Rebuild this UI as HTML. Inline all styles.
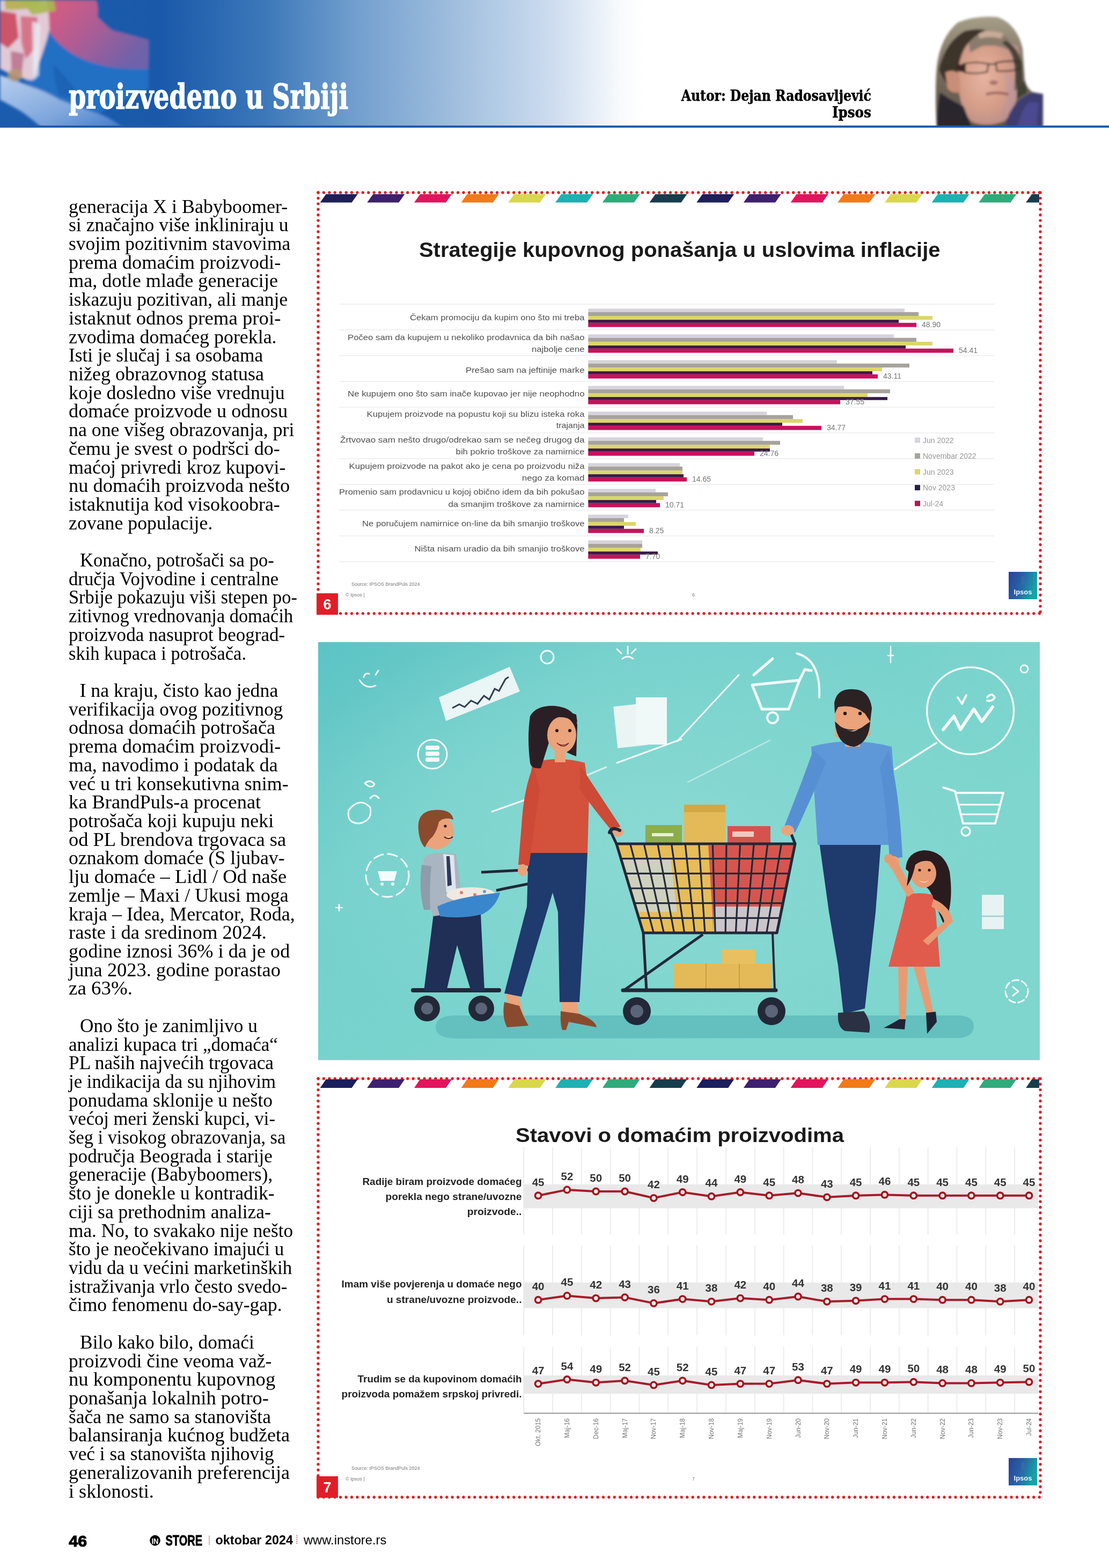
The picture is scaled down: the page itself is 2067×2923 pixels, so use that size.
<!DOCTYPE html>
<html lang="sr">
<head>
<meta charset="utf-8">
<title>proizvedeno u Srbiji – InStore oktobar 2024</title>
<style>
html,body{margin:0;padding:0;background:#fff;}
body{width:2067px;height:2923px;position:relative;overflow:hidden;}
.abs{position:absolute;}
#hdr{left:0;top:0;width:2067px;height:234px;background:linear-gradient(to right,#1b5cae 0px,#1a59aa 300px,#3a76b8 485px,#74a0cf 670px,#a2bfdf 854px,#cfdef0 1039px,#f8fafd 1156px,#fff 1200px);}
#hline{left:0;top:234px;width:2067px;height:4px;background:#1f5ca9;}
#body{left:128px;top:0;font-family:"Liberation Serif",serif;font-size:35.8px;color:#000;}
#body div{position:absolute;left:0;white-space:pre;line-height:1;transform-origin:0 0;}
svg{position:absolute;left:0;top:0;}
</style>
</head>
<body>
<div id="hdr" class="abs"></div>
<svg width="2067" height="240" viewBox="0 0 2067 240">
<defs><clipPath id="hclip"><rect x="0" y="0" width="2067" height="235"/></clipPath></defs><g clip-path="url(#hclip)"><defs>
<linearGradient id="flr" x1="0" y1="0" x2="1" y2="0.6"><stop offset="0" stop-color="#dc5c7c"/><stop offset="0.45" stop-color="#b45c92"/><stop offset="1" stop-color="#6f62aa"/></linearGradient>
<linearGradient id="flw" x1="0" y1="0" x2="1" y2="1"><stop offset="0" stop-color="#b8cfee"/><stop offset="0.6" stop-color="#7ea6dc"/><stop offset="1" stop-color="#3f78c8"/></linearGradient>
<filter id="fbl" x="-10%" y="-10%" width="120%" height="120%"><feGaussianBlur stdDeviation="2.5"/></filter>
</defs>
<g filter="url(#fbl)">
<path d="M0 140 Q30 150 55 160 Q85 170 111 185 Q150 200 185 212 Q210 222 232 240 L80 240 Q60 222 40 208 Q18 195 0 186 Z" fill="url(#flw)"/>
<path d="M95 58 Q120 90 150 105 Q200 120 277 128 L277 165 Q240 185 185 210 Q150 198 111 183 Q80 168 55 158 Q40 150 48 140 Q70 100 95 58 Z" fill="#2470c4"/>
<path d="M100 120 Q130 150 150 180 Q130 185 110 178 Q100 150 100 120 Z" fill="#1b5cae" opacity="0.6"/>
<path d="M85 0 L180 0 Q186 18 182 30 Q195 45 210 56 Q250 66 278 74 L277 128 Q240 130 200 124 Q160 115 135 100 Q105 80 92 58 Q86 30 85 0 Z" fill="url(#flr)"/>
<path d="M0 0 L88 0 Q92 30 92 58 Q80 100 60 150 Q30 145 0 128 Z" fill="#e2c9d6"/>
<path d="M8 0 L75 0 L72 12 Q40 20 10 18 Z" fill="#b9b25a"/>
<path d="M40 2 L100 0 L104 20 L60 28 Z" fill="#a9b84e" opacity="0.9"/>
<path d="M0 20 L30 25 L35 70 L15 90 L0 80 Z" fill="#c84058" opacity="0.85"/>
<path d="M38 30 L70 32 L66 90 L48 110 L40 80 Z" fill="#d0506a" opacity="0.7"/>
<path d="M20 95 L45 100 L40 140 L22 150 Z" fill="#b86a88" opacity="0.8"/>
<ellipse cx="28" cy="140" rx="14" ry="12" fill="#b89a70" opacity="0.8"/>
<path d="M60 40 L75 45 L72 140 L62 150 Z" fill="#e8eef4" opacity="0.8"/>
</g>
<defs>
<radialGradient id="phf" cx="0.42" cy="0.45" r="0.65"><stop offset="0" stop-color="#e6b4a2"/><stop offset="0.55" stop-color="#d69e88"/><stop offset="1" stop-color="#b48c8c"/></radialGradient>
<linearGradient id="phh" x1="0" y1="0" x2="0" y2="1"><stop offset="0" stop-color="#a69e88"/><stop offset="0.5" stop-color="#776c5c"/><stop offset="1" stop-color="#5a5046"/></linearGradient>
<filter id="pbl" x="-10%" y="-10%" width="120%" height="120%"><feGaussianBlur stdDeviation="2"/></filter>
</defs>
<g filter="url(#pbl)">
<path d="M1746 240 Q1742 170 1746 125 Q1752 70 1785 42 Q1820 28 1860 32 Q1895 45 1906 90 L1910 150 Q1914 165 1925 172 L1944 175 L1944 240 Z" fill="url(#phh)"/>
<path d="M1786 82 Q1840 60 1898 86 Q1904 120 1900 160 Q1894 205 1872 226 Q1842 238 1812 228 Q1790 205 1786 160 Q1782 110 1786 82 Z" fill="url(#phf)"/>
<path d="M1805 70 Q1845 56 1880 70 L1885 95 Q1860 82 1830 86 L1808 98 Z" fill="#8a7c6c"/>
<path d="M1822 60 Q1845 55 1870 62 L1866 72 Q1845 66 1826 72 Z" fill="#c8aa98"/>
<path d="M1750 130 Q1762 78 1798 58 Q1820 52 1838 56 Q1815 66 1802 84 Q1790 100 1786 130 Q1782 150 1784 175 Q1762 160 1750 130 Z" fill="#3e342c"/>
<path d="M1762 135 Q1776 128 1788 138 L1790 172 Q1776 176 1766 165 Z" fill="#c88e78"/>
<path d="M1752 172 Q1770 186 1796 198 L1812 240 L1746 240 Q1746 200 1752 172 Z" fill="#2a282e"/>
<path d="M1874 75 Q1898 88 1905 120 L1907 162 Q1898 170 1890 168 Q1895 135 1888 108 Q1882 90 1868 80 Z" fill="#4a4238"/>
<path d="M1872 135 Q1894 145 1896 172 Q1888 198 1874 214 Q1880 180 1872 135 Z" fill="#b89aa8" opacity="0.45"/>
<g fill="none" stroke="#3a2a26" stroke-width="2.6">
<path d="M1782 124 L1796 121"/>
<path d="M1796 119 Q1818 114 1842 119 L1840 134 Q1818 139 1798 135 Z"/>
<path d="M1842 120 L1856 119"/>
<path d="M1856 117 Q1880 112 1902 115 L1900 129 Q1878 134 1858 132 Z"/>
</g>
<path d="M1782 121 L1800 119 L1800 135 L1786 133 Z" fill="#3a2622"/>
<ellipse cx="1852" cy="154" rx="8" ry="4" fill="#a8706a"/>
<path d="M1838 176 Q1856 170 1880 176" stroke="#9a5a5a" stroke-width="4" fill="none"/>
<path d="M1872 240 Q1880 205 1898 188 Q1912 176 1926 172 L1944 176 L1944 240 Z" fill="#3e3c72"/>
<path d="M1896 240 Q1902 206 1918 190 L1936 192 L1932 240 Z" fill="#4d4c94" opacity="0.85"/>
<path d="M1895 170 Q1905 160 1910 150 L1915 172 Q1905 178 1895 185 Z" fill="#3c4232"/>
</g>
</g><text x="128" y="201.5" font-family="DejaVu Serif Condensed,DejaVu Serif,serif" font-weight="bold" font-size="63" fill="#fff" stroke="#fff" stroke-width="1.4" textLength="521" lengthAdjust="spacingAndGlyphs">proizvedeno u Srbiji</text>
<text x="1623.8" y="187.8" font-family="DejaVu Serif Condensed,DejaVu Serif,serif" font-weight="bold" font-size="27.3" fill="#000" stroke="#000" stroke-width="0.5" text-anchor="end" textLength="354" lengthAdjust="spacingAndGlyphs">Autor: Dejan Radosavljević</text>
<text x="1623.8" y="218.6" font-family="DejaVu Serif Condensed,DejaVu Serif,serif" font-weight="bold" font-size="27.3" fill="#000" stroke="#000" stroke-width="0.5" text-anchor="end">Ipsos</text>
</svg>
<div id="hline" class="abs"></div>
<div id="body" class="abs"><div style="top:367.5px;left:0px;transform:scaleX(1.006)">generacija X i Babyboomer-</div>
<div style="top:402.2px;left:0px;transform:scaleX(0.9953)">si značajno više inkliniraju u</div>
<div style="top:436.9px;left:0px;transform:scaleX(0.9894)">svojim pozitivnim stavovima</div>
<div style="top:471.6px;left:0px;transform:scaleX(1.0145)">prema domaćim proizvodi-</div>
<div style="top:506.4px;left:0px;transform:scaleX(1.0115)">ma, dotle mlađe generacije</div>
<div style="top:541.1px;left:0px;transform:scaleX(0.9919)">iskazuju pozitivan, ali manje</div>
<div style="top:575.8px;left:0px;transform:scaleX(1.0278)">istaknut odnos prema proi-</div>
<div style="top:610.5px;left:0px;transform:scaleX(1.0024)">zvodima domaćeg porekla.</div>
<div style="top:645.2px;left:0px;transform:scaleX(0.9874)">Isti je slučaj i sa osobama</div>
<div style="top:679.9px;left:0px;transform:scaleX(1.0061)">nižeg obrazovnog statusa</div>
<div style="top:714.6px;left:0px">koje dosledno više vrednuju</div>
<div style="top:749.3px;left:0px;transform:scaleX(1.0135)">domaće proizvode u odnosu</div>
<div style="top:784.0px;left:0px">na one višeg obrazovanja, pri</div>
<div style="top:818.7px;left:0px;transform:scaleX(1.008)">čemu je svest o podršci do-</div>
<div style="top:853.5px;left:0px;transform:scaleX(1.0048)">maćoj privredi kroz kupovi-</div>
<div style="top:888.2px;left:0px;transform:scaleX(1.019)">nu domaćih proizvoda nešto</div>
<div style="top:922.9px;left:0px;transform:scaleX(1.0054)">istaknutija kod visokoobra-</div>
<div style="top:957.6px;left:0px">zovane populacije.</div>
<div style="top:1027.0px;left:20.5px;transform:scaleX(0.9681)">Konačno, potrošači sa po-</div>
<div style="top:1061.7px;left:0px;transform:scaleX(0.9703)">dručja Vojvodine i centralne</div>
<div style="top:1096.4px;left:0px;transform:scaleX(0.9605)">Srbije pokazuju viši stepen po-</div>
<div style="top:1131.1px;left:0px;transform:scaleX(0.9603)">zitivnog vrednovanja domaćih</div>
<div style="top:1165.8px;left:0px;transform:scaleX(0.9799)">proizvoda nasuprot beograd-</div>
<div style="top:1200.6px;left:0px;transform:scaleX(0.9624)">skih kupaca i potrošača.</div>
<div style="top:1270.0px;left:20.5px">I na kraju, čisto kao jedna</div>
<div style="top:1304.7px;left:0px;transform:scaleX(0.9847)">verifikacija ovog pozitivnog</div>
<div style="top:1339.4px;left:0px;transform:scaleX(1.0143)">odnosa domaćih potrošača</div>
<div style="top:1374.1px;left:0px;transform:scaleX(1.0148)">prema domaćim proizvodi-</div>
<div style="top:1408.8px;left:0px;transform:scaleX(1.0026)">ma, navodimo i podatak da</div>
<div style="top:1443.5px;left:0px;transform:scaleX(1.0052)">već u tri konsekutivna snim-</div>
<div style="top:1478.2px;left:0px;transform:scaleX(1.018)">ka BrandPuls-a procenat</div>
<div style="top:1512.9px;left:0px;transform:scaleX(1.0037)">potrošača koji kupuju neki</div>
<div style="top:1547.7px;left:0px;transform:scaleX(1.0187)">od PL brendova trgovaca sa</div>
<div style="top:1582.4px;left:0px">oznakom domaće (S ljubav-</div>
<div style="top:1617.1px;left:0px;transform:scaleX(1.0213)">lju domaće – Lidl / Od naše</div>
<div style="top:1651.8px;left:0px;transform:scaleX(1.0027)">zemlje – Maxi / Ukusi moga</div>
<div style="top:1686.5px;left:0px;transform:scaleX(1.0067)">kraja – Idea, Mercator, Roda,</div>
<div style="top:1721.2px;left:0px;transform:scaleX(1.0222)">raste i da sredinom 2024.</div>
<div style="top:1755.9px;left:0px;transform:scaleX(1.0114)">godine iznosi 36% i da je od</div>
<div style="top:1790.6px;left:0px;transform:scaleX(1.0185)">juna 2023. godine porastao</div>
<div style="top:1825.3px;left:0px;transform:scaleX(1.0324)">za 63%.</div>
<div style="top:1894.8px;left:20.5px;transform:scaleX(0.9847)">Ono što je zanimljivo u</div>
<div style="top:1929.5px;left:0px;transform:scaleX(0.9784)">analizi kupaca tri „domaća“</div>
<div style="top:1964.2px;left:0px;transform:scaleX(0.988)">PL naših najvećih trgovaca</div>
<div style="top:1998.9px;left:0px;transform:scaleX(0.9706)">je indikacija da su njihovim</div>
<div style="top:2033.6px;left:0px;transform:scaleX(0.9929)">ponudama sklonije u nešto</div>
<div style="top:2068.3px;left:0px;transform:scaleX(0.9657)">većoj meri ženski kupci, vi-</div>
<div style="top:2103.0px;left:0px;transform:scaleX(0.9614)">šeg i visokog obrazovanja, sa</div>
<div style="top:2137.7px;left:0px;transform:scaleX(0.9825)">područja Beograda i starije</div>
<div style="top:2172.4px;left:0px;transform:scaleX(0.9809)">generacije (Babyboomers),</div>
<div style="top:2207.1px;left:0px">što je donekle u kontradik-</div>
<div style="top:2241.9px;left:0px;transform:scaleX(0.9899)">ciji sa prethodnim analiza-</div>
<div style="top:2276.6px;left:0px;transform:scaleX(0.985)">ma. No, to svakako nije nešto</div>
<div style="top:2311.3px;left:0px;transform:scaleX(0.9798)">što je neočekivano imajući u</div>
<div style="top:2346.0px;left:0px;transform:scaleX(0.9781)">vidu da u većini marketinških</div>
<div style="top:2380.7px;left:0px;transform:scaleX(0.9735)">istraživanja vrlo često svedo-</div>
<div style="top:2415.4px;left:0px;transform:scaleX(0.9929)">čimo fenomenu do-say-gap.</div>
<div style="top:2484.8px;left:20.5px;transform:scaleX(0.9898)">Bilo kako bilo, domaći</div>
<div style="top:2519.5px;left:0px;transform:scaleX(0.9939)">proizvodi čine veoma važ-</div>
<div style="top:2554.2px;left:0px;transform:scaleX(1.0252)">nu komponentu kupovnog</div>
<div style="top:2589.0px;left:0px;transform:scaleX(1.0196)">ponašanja lokalnih potro-</div>
<div style="top:2623.7px;left:0px;transform:scaleX(0.9926)">šača ne samo sa stanovišta</div>
<div style="top:2658.4px;left:0px;transform:scaleX(1.0114)">balansiranja kućnog budžeta</div>
<div style="top:2693.1px;left:0px;transform:scaleX(0.9868)">već i sa stanovišta njihovig</div>
<div style="top:2727.8px;left:0px;transform:scaleX(1.0089)">generalizovanih preferencija</div>
<div style="top:2762.5px;left:0px;transform:scaleX(1.0105)">i sklonosti.</div></div>
<svg width="2067" height="1160" viewBox="0 0 2067 1160">
<line x1="593" y1="359" x2="1939" y2="359" stroke="#e31d27" stroke-width="5.4" stroke-linecap="round" stroke-dasharray="0 10.42" fill="none"/>
<line x1="593" y1="1143.6" x2="1939" y2="1143.6" stroke="#e31d27" stroke-width="5.4" stroke-linecap="round" stroke-dasharray="0 10.42" fill="none"/>
<line x1="593" y1="359" x2="593" y2="1143.6" stroke="#e31d27" stroke-width="5.4" stroke-linecap="round" stroke-dasharray="0 10.42" fill="none"/>
<line x1="1939" y1="359" x2="1939" y2="1143.6" stroke="#e31d27" stroke-width="5.4" stroke-linecap="round" stroke-dasharray="0 10.42" fill="none"/>
<polygon points="607.6,362 666.6,362 655.6,377.5 596.6,377.5" fill="#1b1f5e"/>
<polygon points="695.3,362 754.3,362 743.3,377.5 684.3,377.5" fill="#3d2070"/>
<polygon points="783.0,362 842.0,362 831.0,377.5 772.0,377.5" fill="#e3135e"/>
<polygon points="870.7,362 929.7,362 918.7,377.5 859.7,377.5" fill="#f27a17"/>
<polygon points="958.4,362 1017.4,362 1006.4,377.5 947.4,377.5" fill="#d9d84a"/>
<polygon points="1046.1,362 1105.1,362 1094.1,377.5 1035.1,377.5" fill="#1cb1b4"/>
<polygon points="1133.8,362 1192.8,362 1181.8,377.5 1122.8,377.5" fill="#2fab7b"/>
<polygon points="1221.5,362 1280.5,362 1269.5,377.5 1210.5,377.5" fill="#173d4c"/>
<polygon points="1309.2,362 1368.2,362 1357.2,377.5 1298.2,377.5" fill="#1b1f5e"/>
<polygon points="1396.9,362 1455.9,362 1444.9,377.5 1385.9,377.5" fill="#3d2070"/>
<polygon points="1484.6,362 1543.6,362 1532.6,377.5 1473.6,377.5" fill="#e3135e"/>
<polygon points="1572.3,362 1631.3,362 1620.3,377.5 1561.3,377.5" fill="#f27a17"/>
<polygon points="1660.0,362 1719.0,362 1708.0,377.5 1649.0,377.5" fill="#d9d84a"/>
<polygon points="1747.7,362 1806.7,362 1795.7,377.5 1736.7,377.5" fill="#1cb1b4"/>
<polygon points="1835.4,362 1894.4,362 1883.4,377.5 1824.4,377.5" fill="#2fab7b"/>
<polygon points="1923.1,362 1937.0,362 1937.0,377.5 1912.1,377.5" fill="#173d4c"/>
<text x="781" y="479.3" font-family="Liberation Sans,sans-serif" font-weight="bold" font-size="39.5" fill="#1a1a1a" textLength="971.5" lengthAdjust="spacingAndGlyphs">Strategije kupovnog ponašanja u uslovima inflacije</text>
<line x1="632" y1="567" x2="1853" y2="567" stroke="#ececec" stroke-width="1.5"/>
<line x1="632" y1="615" x2="1853" y2="615" stroke="#ececec" stroke-width="1.5"/>
<line x1="632" y1="663" x2="1853" y2="663" stroke="#ececec" stroke-width="1.5"/>
<line x1="632" y1="711" x2="1853" y2="711" stroke="#ececec" stroke-width="1.5"/>
<line x1="632" y1="759" x2="1853" y2="759" stroke="#ececec" stroke-width="1.5"/>
<line x1="632" y1="807" x2="1853" y2="807" stroke="#ececec" stroke-width="1.5"/>
<line x1="632" y1="855" x2="1853" y2="855" stroke="#ececec" stroke-width="1.5"/>
<line x1="632" y1="903" x2="1853" y2="903" stroke="#ececec" stroke-width="1.5"/>
<line x1="632" y1="951" x2="1853" y2="951" stroke="#ececec" stroke-width="1.5"/>
<line x1="632" y1="999" x2="1853" y2="999" stroke="#ececec" stroke-width="1.5"/>
<line x1="632" y1="1047" x2="1853" y2="1047" stroke="#ececec" stroke-width="1.5"/>
<rect x="1096.3" y="575.3" width="589.7" height="6.5" fill="#d6d3dc"/>
<rect x="1096.3" y="581.8" width="615.7" height="7.3" fill="#a7a39c"/>
<rect x="1096.3" y="589.1" width="641.7" height="7" fill="#dcd66a"/>
<rect x="1096.3" y="596.1" width="578.7" height="5.7" fill="#3a1a48"/>
<rect x="1096.3" y="601.8" width="611.7" height="7.8" fill="#c8115a"/>
<text x="1718.0" y="610.3" font-family="Liberation Sans,sans-serif" font-size="14" fill="#777">48.90</text>
<text x="764" y="597" font-family="Liberation Sans,sans-serif" font-size="14.5" fill="#505050" textLength="325.5" lengthAdjust="spacingAndGlyphs">Čekam promociju da kupim ono što mi treba</text>
<rect x="1096.3" y="623.3" width="569.7" height="6.5" fill="#d6d3dc"/>
<rect x="1096.3" y="629.8" width="611.7" height="7.3" fill="#a7a39c"/>
<rect x="1096.3" y="637.1" width="641.7" height="7" fill="#dcd66a"/>
<rect x="1096.3" y="644.1" width="591.7" height="5.7" fill="#3a1a48"/>
<rect x="1096.3" y="649.8" width="680.7" height="7.8" fill="#c8115a"/>
<text x="1787.0" y="658.3" font-family="Liberation Sans,sans-serif" font-size="14" fill="#777">54.41</text>
<text x="648" y="633.9" font-family="Liberation Sans,sans-serif" font-size="14.5" fill="#505050" textLength="441.5" lengthAdjust="spacingAndGlyphs">Počeo sam da kupujem u nekoliko prodavnica da bih našao</text>
<text x="991" y="656" font-family="Liberation Sans,sans-serif" font-size="14.5" fill="#505050" textLength="98.5" lengthAdjust="spacingAndGlyphs">najbolje cene</text>
<rect x="1096.3" y="671.3" width="463.7" height="6.5" fill="#d6d3dc"/>
<rect x="1096.3" y="677.8" width="598.7" height="7.3" fill="#a7a39c"/>
<rect x="1096.3" y="685.1" width="547.7" height="7" fill="#dcd66a"/>
<rect x="1096.3" y="692.1" width="529.7" height="5.7" fill="#3a1a48"/>
<rect x="1096.3" y="697.8" width="539.7" height="7.8" fill="#c8115a"/>
<text x="1646.0" y="706.3" font-family="Liberation Sans,sans-serif" font-size="14" fill="#777">43.11</text>
<text x="868" y="694.5" font-family="Liberation Sans,sans-serif" font-size="14.5" fill="#505050" textLength="221.5" lengthAdjust="spacingAndGlyphs">Prešao sam na jeftinije  marke</text>
<rect x="1096.3" y="719.3" width="476.7" height="6.5" fill="#d6d3dc"/>
<rect x="1096.3" y="725.8" width="562.7" height="7.3" fill="#a7a39c"/>
<rect x="1096.3" y="733.1" width="520.7" height="7" fill="#dcd66a"/>
<rect x="1096.3" y="740.1" width="557.7" height="5.7" fill="#3a1a48"/>
<rect x="1096.3" y="745.8" width="469.7" height="7.8" fill="#c8115a"/>
<text x="1576.0" y="754.3" font-family="Liberation Sans,sans-serif" font-size="14" fill="#777">37.55</text>
<text x="648" y="738.8" font-family="Liberation Sans,sans-serif" font-size="14.5" fill="#505050" textLength="441.5" lengthAdjust="spacingAndGlyphs">Ne kupujem ono što sam inače kupovao jer nije neophodno</text>
<rect x="1096.3" y="767.3" width="332.7" height="6.5" fill="#d6d3dc"/>
<rect x="1096.3" y="773.8" width="381.7" height="7.3" fill="#a7a39c"/>
<rect x="1096.3" y="781.1" width="399.7" height="7" fill="#dcd66a"/>
<rect x="1096.3" y="788.1" width="361.7" height="5.7" fill="#3a1a48"/>
<rect x="1096.3" y="793.8" width="434.7" height="7.8" fill="#c8115a"/>
<text x="1541.0" y="802.3" font-family="Liberation Sans,sans-serif" font-size="14" fill="#777">34.77</text>
<text x="683.6" y="777" font-family="Liberation Sans,sans-serif" font-size="14.5" fill="#505050" textLength="405.9" lengthAdjust="spacingAndGlyphs">Kupujem proizvode na popustu koji su blizu isteka roka</text>
<text x="1036.8" y="798" font-family="Liberation Sans,sans-serif" font-size="14.5" fill="#505050" textLength="52.7" lengthAdjust="spacingAndGlyphs">trajanja</text>
<rect x="1096.3" y="815.3" width="325.7" height="6.5" fill="#d6d3dc"/>
<rect x="1096.3" y="821.8" width="357.7" height="7.3" fill="#a7a39c"/>
<rect x="1096.3" y="829.1" width="338.7" height="7" fill="#dcd66a"/>
<rect x="1096.3" y="836.1" width="338.7" height="5.7" fill="#3a1a48"/>
<rect x="1096.3" y="841.8" width="309.7" height="7.8" fill="#c8115a"/>
<text x="1416.0" y="850.3" font-family="Liberation Sans,sans-serif" font-size="14" fill="#777">24.76</text>
<text x="634" y="824.7" font-family="Liberation Sans,sans-serif" font-size="14.5" fill="#505050" textLength="455.5" lengthAdjust="spacingAndGlyphs">Žrtvovao sam nešto drugo/odrekao sam se nečeg  drugog da</text>
<text x="849.6" y="847" font-family="Liberation Sans,sans-serif" font-size="14.5" fill="#505050" textLength="239.9" lengthAdjust="spacingAndGlyphs">bih pokrio troškove za namirnice</text>
<rect x="1096.3" y="863.3" width="170.7" height="6.5" fill="#d6d3dc"/>
<rect x="1096.3" y="869.8" width="175.7" height="7.3" fill="#a7a39c"/>
<rect x="1096.3" y="877.1" width="175.7" height="7" fill="#dcd66a"/>
<rect x="1096.3" y="884.1" width="177.7" height="5.7" fill="#3a1a48"/>
<rect x="1096.3" y="889.8" width="183.7" height="7.8" fill="#c8115a"/>
<text x="1290.0" y="898.3" font-family="Liberation Sans,sans-serif" font-size="14" fill="#777">14.65</text>
<text x="650.5" y="873.5" font-family="Liberation Sans,sans-serif" font-size="14.5" fill="#505050" textLength="439.0" lengthAdjust="spacingAndGlyphs">Kupujem proizvode na pakot ako je cena po proizvodu niža</text>
<text x="972.8" y="895.8" font-family="Liberation Sans,sans-serif" font-size="14.5" fill="#505050" textLength="116.7" lengthAdjust="spacingAndGlyphs">nego za komad</text>
<rect x="1096.3" y="911.3" width="125.7" height="6.5" fill="#d6d3dc"/>
<rect x="1096.3" y="917.8" width="148.7" height="7.3" fill="#a7a39c"/>
<rect x="1096.3" y="925.1" width="140.7" height="7" fill="#dcd66a"/>
<rect x="1096.3" y="932.1" width="126.7" height="5.7" fill="#3a1a48"/>
<rect x="1096.3" y="937.8" width="133.7" height="7.8" fill="#c8115a"/>
<text x="1240.0" y="946.3" font-family="Liberation Sans,sans-serif" font-size="14" fill="#777">10.71</text>
<text x="632" y="922.3" font-family="Liberation Sans,sans-serif" font-size="14.5" fill="#505050" textLength="457.5" lengthAdjust="spacingAndGlyphs">Promenio sam prodavnicu u kojoj obično idem da bih pokušao</text>
<text x="835.4" y="944.6" font-family="Liberation Sans,sans-serif" font-size="14.5" fill="#505050" textLength="254.1" lengthAdjust="spacingAndGlyphs">da smanjim troškove za namirnice</text>
<rect x="1096.3" y="959.3" width="74.7" height="6.5" fill="#d6d3dc"/>
<rect x="1096.3" y="965.8" width="66.7" height="7.3" fill="#a7a39c"/>
<rect x="1096.3" y="973.1" width="88.7" height="7" fill="#dcd66a"/>
<rect x="1096.3" y="980.1" width="66.7" height="5.7" fill="#3a1a48"/>
<rect x="1096.3" y="985.8" width="103.7" height="7.8" fill="#c8115a"/>
<text x="1210.0" y="994.3" font-family="Liberation Sans,sans-serif" font-size="14" fill="#777">8.25</text>
<text x="675" y="981" font-family="Liberation Sans,sans-serif" font-size="14.5" fill="#505050" textLength="414.5" lengthAdjust="spacingAndGlyphs">Ne poručujem namirnice on-line da bih smanjio troškove</text>
<rect x="1096.3" y="1007.3" width="100.7" height="6.5" fill="#d6d3dc"/>
<rect x="1096.3" y="1013.8" width="100.7" height="7.3" fill="#a7a39c"/>
<rect x="1096.3" y="1021.1" width="97.7" height="7" fill="#dcd66a"/>
<rect x="1096.3" y="1028.1" width="129.7" height="5.7" fill="#3a1a48"/>
<rect x="1096.3" y="1033.8" width="96.7" height="7.8" fill="#c8115a"/>
<text x="1203.0" y="1042.3" font-family="Liberation Sans,sans-serif" font-size="14" fill="#777">7.70</text>
<text x="772.4" y="1028" font-family="Liberation Sans,sans-serif" font-size="14.5" fill="#505050" textLength="317.1" lengthAdjust="spacingAndGlyphs">Ništa nisam uradio da bih smanjio troškove</text>
<rect x="1705" y="815.5" width="10" height="10" fill="#d8d5de"/><text x="1720" y="825.5" font-family="Liberation Sans,sans-serif" font-size="14" fill="#999">Jun 2022</text>
<rect x="1705" y="845.0" width="10" height="10" fill="#a7a39c"/><text x="1720" y="855.0" font-family="Liberation Sans,sans-serif" font-size="14" fill="#999">Novembar 2022</text>
<rect x="1705" y="874.5" width="10" height="10" fill="#dcd66a"/><text x="1720" y="884.5" font-family="Liberation Sans,sans-serif" font-size="14" fill="#999">Jun 2023</text>
<rect x="1705" y="904.0" width="10" height="10" fill="#2a2040"/><text x="1720" y="914.0" font-family="Liberation Sans,sans-serif" font-size="14" fill="#999">Nov 2023</text>
<rect x="1705" y="933.5" width="10" height="10" fill="#b01850"/><text x="1720" y="943.5" font-family="Liberation Sans,sans-serif" font-size="14" fill="#999">Jul-24</text>
<text x="655" y="1092" font-family="Liberation Sans,sans-serif" font-size="9" fill="#777">Source: IPSOS BrandPuls 2024</text>
<text x="644" y="1112" font-family="Liberation Sans,sans-serif" font-size="9" fill="#777">© Ipsos |</text>
<text x="1290" y="1112" font-family="Liberation Sans,sans-serif" font-size="9" fill="#777">6</text>
<defs><linearGradient id="ipg18801066" x1="0" y1="0" x2="1" y2="0.3"><stop offset="0" stop-color="#2b3f98"/><stop offset="0.55" stop-color="#2667a8"/><stop offset="1" stop-color="#17a3a6"/></linearGradient></defs><rect x="1880" y="1066" width="53" height="51" fill="url(#ipg18801066)"/><rect x="1903.5" y="1074" width="6" height="16" rx="3" fill="#3a6ab0" opacity="0.8"/><text x="1906.5" y="1108" font-family="Liberation Sans,sans-serif" font-weight="bold" font-size="13" fill="#e8f0ff" text-anchor="middle">Ipsos</text>
<rect x="590" y="1106" width="40" height="40" fill="#e31d27"/><text x="610" y="1136" font-family="Liberation Sans,sans-serif" font-weight="bold" font-size="27" fill="#fff" text-anchor="middle">6</text>
</svg>
<svg width="2067" height="2923" viewBox="0 0 2067 2923">
<defs>
<linearGradient id="ibg" x1="0" y1="0" x2="0.8" y2="0.6">
<stop offset="0" stop-color="#5cc3c4"/><stop offset="0.35" stop-color="#74d0cc"/><stop offset="1" stop-color="#7ed6ce"/></linearGradient>
<radialGradient id="ihl" cx="0.5" cy="0.5" r="0.5"><stop offset="0" stop-color="#8edbd4" stop-opacity="0.8"/><stop offset="1" stop-color="#8edbd4" stop-opacity="0"/></radialGradient>
<clipPath id="iclip"><rect x="593" y="1197" width="1345" height="779.5"/></clipPath>
</defs>
<g clip-path="url(#iclip)">
<rect x="593" y="1197" width="1345" height="779.5" fill="url(#ibg)"/>
<ellipse cx="1200" cy="1560" rx="700" ry="420" fill="url(#ihl)"/>

<path d="M812 1915 Q812 1893 850 1893 L1790 1893 Q1815 1896 1815 1912 Q1815 1932 1790 1935 L850 1936 Q812 1935 812 1915 Z" fill="#63c0bf"/>
<g opacity="0.92">
<polygon points="818,1300 950,1243 969,1289 831,1344" fill="#f6f9f9"/>
<polyline points="843,1320 856,1313 866,1318 878,1306 890,1312 902,1297 912,1304 922,1284 930,1288 942,1266 948,1262" fill="none" stroke="#2a3245" stroke-width="3"/>
<rect x="1147" y="1314" width="56" height="78" fill="#f4f7f7" transform="rotate(-6 1175 1353)"/>
<rect x="1185" y="1300" width="58" height="88" fill="#fafcfc"/>
<circle cx="806" cy="1406" r="27" stroke="#ffffff" fill="none" stroke-linecap="round" stroke-linejoin="round" stroke-width="3"/>
<rect x="793" y="1390" width="26" height="8" rx="3" fill="#fff"/><rect x="793" y="1401" width="26" height="8" rx="3" fill="#fff"/><rect x="793" y="1412" width="26" height="8" rx="3" fill="#fff"/>
<line x1="917" y1="1513" x2="1010" y2="1480" stroke="#ffffff" fill="none" stroke-linecap="round" stroke-linejoin="round" stroke-width="3"/>
<line x1="1040" y1="1468" x2="1130" y2="1430" stroke="#ffffff" fill="none" stroke-linecap="round" stroke-linejoin="round" stroke-width="3" opacity="0.7"/>
<line x1="1150" y1="1422" x2="1270" y2="1378" stroke="#ffffff" fill="none" stroke-linecap="round" stroke-linejoin="round" stroke-width="3"/>
<line x1="1262" y1="1382" x2="1377" y2="1258" stroke="#ffffff" fill="none" stroke-linecap="round" stroke-linejoin="round" stroke-width="3"/>
<line x1="1282" y1="1458" x2="1435" y2="1380" stroke="#ffffff" fill="none" stroke-linecap="round" stroke-linejoin="round" stroke-width="2.5" opacity="0.5"/>
<path d="M1402 1277 L1490 1268 L1470 1322 L1420 1322 Z" stroke="#ffffff" fill="none" stroke-linecap="round" stroke-linejoin="round" stroke-width="5"/>
<path d="M1490 1268 L1500 1248 L1512 1250" stroke="#ffffff" fill="none" stroke-linecap="round" stroke-linejoin="round" stroke-width="5"/>
<circle cx="1440" cy="1338" r="10" stroke="#ffffff" fill="none" stroke-linecap="round" stroke-linejoin="round" stroke-width="4"/>
<line x1="1405" y1="1258" x2="1440" y2="1228" stroke="#ffffff" fill="none" stroke-linecap="round" stroke-linejoin="round" stroke-width="5"/>
<path d="M1485 1218 Q1530 1230 1527 1300" stroke="#ffffff" fill="none" stroke-linecap="round" stroke-linejoin="round" stroke-width="4"/>
<circle cx="1808.6" cy="1325" r="81" stroke="#ffffff" fill="none" stroke-linecap="round" stroke-linejoin="round" stroke-width="3.5"/>
<polyline points="1758,1360 1778,1335 1790,1360 1815,1322 1830,1345 1850,1318" stroke="#ffffff" fill="none" stroke-linecap="round" stroke-linejoin="round" stroke-width="6"/>
<path d="M1785 1300 l8 12 l8 -16 M1840 1300 q8 -10 14 0 q-4 8 -14 6" stroke="#ffffff" fill="none" stroke-linecap="round" stroke-linejoin="round" stroke-width="4"/>
<line x1="1745" y1="1385" x2="1668" y2="1434" stroke="#ffffff" fill="none" stroke-linecap="round" stroke-linejoin="round" stroke-width="3.5"/>
<path d="M1758 1468 L1780 1475 L1795 1535 L1855 1535 L1870 1478 L1782 1478" stroke="#ffffff" fill="none" stroke-linecap="round" stroke-linejoin="round" stroke-width="4"/>
<line x1="1788" y1="1500" x2="1862" y2="1500" stroke="#ffffff" fill="none" stroke-linecap="round" stroke-linejoin="round" stroke-width="3"/><line x1="1792" y1="1518" x2="1858" y2="1518" stroke="#ffffff" fill="none" stroke-linecap="round" stroke-linejoin="round" stroke-width="3"/>
<circle cx="1800" cy="1550" r="8" stroke="#ffffff" fill="none" stroke-linecap="round" stroke-linejoin="round" stroke-width="3.5"/>
<circle cx="722" cy="1632" r="40" stroke="#ffffff" fill="none" stroke-linecap="round" stroke-linejoin="round" stroke-width="3" stroke-dasharray="18 9"/>
<path d="M704 1624 L740 1624 L735 1642 L709 1642 Z" fill="#fff"/><circle cx="712" cy="1648" r="3" fill="#fff"/><circle cx="732" cy="1648" r="3" fill="#fff"/>
<circle cx="1020" cy="1225" r="12" stroke="#ffffff" fill="none" stroke-linecap="round" stroke-linejoin="round" stroke-width="3"/>
<path d="M670 1268 q12 18 30 10 M678 1262 q2 -8 10 -6 M700 1258 l5 -8" stroke="#ffffff" fill="none" stroke-linecap="round" stroke-linejoin="round" stroke-width="3"/>
<path d="M1150 1210 l8 8 M1170 1205 l0 14 M1185 1210 l-8 8 M1160 1228 q10 -8 20 0" stroke="#ffffff" fill="none" stroke-linecap="round" stroke-linejoin="round" stroke-width="3"/>
<circle cx="1909" cy="1247" r="7" stroke="#ffffff" fill="none" stroke-linecap="round" stroke-linejoin="round" stroke-width="3"/>
<path d="M1660 1205 l0 30 M1655 1222 l10 0" stroke="#ffffff" fill="none" stroke-linecap="round" stroke-linejoin="round" stroke-width="2.5"/>
<path d="M650 1510 q20 -25 40 -5 q5 25 -20 30 q-25 0 -20 -25 Z M690 1488 q8 -10 16 0" stroke="#ffffff" fill="none" stroke-linecap="round" stroke-linejoin="round" stroke-width="3"/>
<path d="M680 1460 q10 -8 18 2 q-6 10 -18 -2" stroke="#ffffff" fill="none" stroke-linecap="round" stroke-linejoin="round" stroke-width="3"/>
<path d="M626 1692 l12 0 M632 1686 l0 12" stroke="#ffffff" fill="none" stroke-linecap="round" stroke-linejoin="round" stroke-width="2.5"/>
<rect x="1830" y="1668" width="41" height="64" fill="#f0f6f6"/><line x1="1830" y1="1708" x2="1871" y2="1708" stroke="#a8cccc" stroke-width="2.5"/>
<circle cx="1895" cy="1848" r="21" stroke="#ffffff" fill="none" stroke-linecap="round" stroke-linejoin="round" stroke-width="3" stroke-dasharray="12 6"/>
<path d="M1888 1840 l10 8 l-10 8" stroke="#ffffff" fill="none" stroke-linecap="round" stroke-linejoin="round" stroke-width="3"/>
</g>
<g>
<path d="M770 1846 L930 1846" stroke="#222838" stroke-width="8" stroke-linecap="round"/>
<path d="M808 1704 L896 1704 L903 1848 L878 1848 L852 1762 L832 1848 L790 1848 Z" fill="#1f2f55"/>
<circle cx="796" cy="1880" r="24" fill="#222838"/><circle cx="796" cy="1880" r="11" fill="#5b6579"/>
<circle cx="897" cy="1880" r="24" fill="#222838"/><circle cx="897" cy="1880" r="11" fill="#5b6579"/>
<path d="M790 1600 Q800 1588 830 1590 L850 1592 Q858 1640 862 1700 L808 1708 Q786 1660 790 1600 Z" fill="#a9b5c1"/>
<path d="M826 1592 L846 1594 L850 1660 L832 1664 Z" fill="#dfe5ec"/>
<path d="M832 1596 L838 1596 L842 1650 L834 1652 Z" fill="#2b3a5c"/>
<path d="M786 1612 Q780 1660 790 1696 L802 1696 Q800 1650 804 1615 Z" fill="#8f9cab"/>
<circle cx="813" cy="1550" r="33" fill="#eaa37b"/>
<path d="M780 1548 Q776 1512 810 1510 Q842 1508 845 1528 Q828 1522 818 1532 Q815 1548 806 1560 Q798 1566 792 1580 Q782 1570 780 1548 Z" fill="#8b4a2b"/>
<path d="M828 1560 q8 6 16 0" stroke="#5a2a1a" stroke-width="2.5" fill="#fff"/><circle cx="830" cy="1540" r="2.6" fill="#2a1a1a"/>
<ellipse cx="878" cy="1668" rx="46" ry="14" fill="#efe9e2"/>
<circle cx="860" cy="1664" r="3" fill="#e0786a"/><circle cx="885" cy="1668" r="3" fill="#e0786a"/><circle cx="903" cy="1662" r="3" fill="#6aa0d0"/>
<path d="M815 1690 Q850 1672 932 1664 Q925 1690 900 1704 Q860 1714 820 1708 Z" fill="#3a86cc"/>
<path d="M897 1626 L994 1621 L988 1647 L938 1657 L925 1660" fill="none" stroke="#222838" stroke-width="5" stroke-linejoin="round"/>
</g>
<g>
<path d="M985 1585 L1095 1588 L1090 1700 L1080 1868 L1043 1868 L1040 1700 L1030 1664 L972 1858 L940 1852 L982 1690 Z" fill="#1f3a6c"/>
<path d="M942 1852 L968 1858 L972 1878 L980 1905 L955 1908 L948 1880 Z" fill="#eaa37b"/>
<path d="M940 1868 Q935 1895 945 1915 L985 1912 Q975 1895 968 1875 Z" fill="#8a4a2e"/>
<path d="M1046 1868 L1075 1868 L1080 1895 L1046 1892 Z" fill="#eaa37b"/>
<path d="M1045 1885 Q1044 1910 1048 1920 L1055 1920 L1060 1905 L1112 1915 Q1110 1902 1080 1890 Z" fill="#8a4a2e"/>
<path d="M992 1422 Q1040 1408 1090 1422 L1098 1480 L1095 1590 L985 1590 L985 1480 Z" fill="#d4513b"/>
<path d="M994 1428 Q976 1470 972 1540 L966 1612 L986 1614 L996 1540 L1006 1470 Z" fill="#cc4a36"/>
<path d="M1082 1428 Q1110 1470 1156 1540 L1146 1556 Q1100 1500 1080 1470 Z" fill="#cc4a36"/>
<ellipse cx="974" cy="1622" rx="9" ry="11" fill="#eaa37b"/>
<ellipse cx="1152" cy="1551" rx="10" ry="9" fill="#eaa37b"/>
<path d="M988 1335 Q1000 1314 1035 1316 Q1074 1320 1076 1352 L1074 1410 Q1045 1400 1025 1378 L1008 1432 Q990 1434 988 1422 Q982 1375 988 1335 Z" fill="#2b1f25"/>
<rect x="1034" y="1395" width="20" height="26" fill="#eaa37b"/>
<ellipse cx="1047" cy="1370" rx="27" ry="34" fill="#eaa37b"/>
<path d="M1018 1345 Q1040 1328 1076 1346 L1074 1332 Q1040 1318 1016 1334 Z" fill="#2b1f25"/>
<path d="M1038 1385 q10 8 22 0 q-10 12 -22 0 Z" fill="#fff" stroke="#7a2a20" stroke-width="1.5"/><circle cx="1038" cy="1362" r="3" fill="#2a1a1a"/><circle cx="1062" cy="1362" r="3" fill="#2a1a1a"/>
</g>
<g>
<polygon points="1152,1575 1480,1575 1447,1737 1200,1737" fill="#e6bd58"/>
<polygon points="1320,1575 1480,1575 1447,1737 1330,1737" fill="#d6564f"/>
<polygon points="1160,1600 1250,1600 1262,1700 1190,1700" fill="#c9d6da" opacity="0.8"/>
<polygon points="1330,1690 1455,1690 1447,1737 1330,1737" fill="#c8d8de" opacity="0.85"/>
<rect x="1203" y="1538" width="68" height="38" fill="#8cad4a"/><rect x="1215" y="1553" width="40" height="6" fill="#e8eed8"/>
<rect x="1275" y="1500" width="77" height="76" fill="#e3ba57"/><rect x="1275" y="1500" width="77" height="14" fill="#d3a744"/>
<rect x="1356" y="1540" width="80" height="36" fill="#d6524c"/><rect x="1365" y="1550" width="40" height="10" fill="#f2c8c0"/>
<g stroke="#222838" stroke-width="3.2" fill="none"><line x1="1157.3" y1="1600.7" x2="1476.3" y2="1600.7"/><line x1="1165.7" y1="1628.3" x2="1470.7" y2="1628.3"/><line x1="1174.0" y1="1656.0" x2="1465.0" y2="1656.0"/><line x1="1182.3" y1="1683.7" x2="1459.3" y2="1683.7"/><line x1="1190.7" y1="1711.3" x2="1453.7" y2="1711.3"/><line x1="1174.6" y1="1573" x2="1218.2" y2="1739"/><line x1="1200.2" y1="1573" x2="1237.3" y2="1739"/><line x1="1225.8" y1="1573" x2="1256.5" y2="1739"/><line x1="1251.5" y1="1573" x2="1275.6" y2="1739"/><line x1="1277.1" y1="1573" x2="1294.8" y2="1739"/><line x1="1302.7" y1="1573" x2="1313.9" y2="1739"/><line x1="1328.3" y1="1573" x2="1333.1" y2="1739"/><line x1="1353.9" y1="1573" x2="1352.2" y2="1739"/><line x1="1379.5" y1="1573" x2="1371.4" y2="1739"/><line x1="1405.2" y1="1573" x2="1390.5" y2="1739"/><line x1="1430.8" y1="1573" x2="1409.7" y2="1739"/><line x1="1456.4" y1="1573" x2="1428.8" y2="1739"/></g>
<polygon points="1149,1573 1482,1573 1448,1739 1199,1739" fill="none" stroke="#222838" stroke-width="5" stroke-linejoin="round"/>
<path d="M1138 1550 L1149 1573" stroke="#222838" stroke-width="5" fill="none"/>
<path d="M1136 1552 Q1140 1540 1155 1548" stroke="#222838" stroke-width="6" fill="none" stroke-linecap="round"/>
<path d="M1482 1573 L1472 1548" stroke="#222838" stroke-width="5" fill="none"/>
<path d="M1199 1739 L1205 1848 M1310 1742 L1163 1846" stroke="#222838" stroke-width="5" fill="none"/>
<rect x="1256" y="1796" width="182" height="48" fill="#e3ba57"/>
<line x1="1316" y1="1796" x2="1316" y2="1844" stroke="#c99f40" stroke-width="2"/><line x1="1378" y1="1796" x2="1378" y2="1844" stroke="#c99f40" stroke-width="2"/>
<rect x="1346" y="1770" width="62" height="27" fill="#e8c060"/>
<path d="M1161 1846 L1446 1846" stroke="#222838" stroke-width="7" stroke-linecap="round"/>
<path d="M1440 1739 L1444 1846" stroke="#222838" stroke-width="4"/>
<circle cx="1187" cy="1885" r="26" fill="#222838"/><circle cx="1187" cy="1885" r="12" fill="#5b6579"/>
<circle cx="1438" cy="1885" r="26" fill="#222838"/><circle cx="1438" cy="1885" r="12" fill="#5b6579"/>
</g>
<g>
<path d="M1527 1570 L1642 1570 L1632 1700 L1612 1880 L1572 1890 L1562 1800 L1545 1700 Z" fill="#1f3a6c"/>
<path d="M1562 1888 Q1560 1915 1575 1922 L1620 1925 Q1625 1905 1610 1885 Z" fill="#2a3142"/>
<path d="M1512 1392 Q1585 1372 1662 1392 L1676 1575 L1524 1575 Z" fill="#5e98d8"/>
<path d="M1516 1398 Q1490 1470 1462 1540 L1482 1552 Q1512 1490 1540 1420 Z" fill="#5790d2"/>
<path d="M1656 1398 Q1676 1470 1682 1598 L1658 1602 Q1652 1500 1640 1430 Z" fill="#5790d2"/>
<ellipse cx="1468" cy="1548" rx="12" ry="10" fill="#eaa37b"/>
<ellipse cx="1666" cy="1608" rx="11" ry="12" fill="#eaa37b"/>
<rect x="1575" y="1370" width="28" height="22" fill="#eaa37b"/>
<path d="M1556 1305 Q1588 1290 1622 1308 L1622 1370 Q1590 1392 1556 1372 Z" fill="#eaa37b"/>
<path d="M1555 1310 Q1560 1282 1592 1285 Q1620 1286 1625 1320 L1622 1345 L1612 1330 Q1590 1312 1562 1318 L1556 1330 Z" fill="#2b2224"/>
<path d="M1556 1345 Q1560 1390 1592 1392 Q1620 1385 1622 1345 L1612 1352 Q1600 1362 1590 1360 Q1570 1360 1562 1350 Z" fill="#2b2224"/>
<path d="M1578 1360 q10 5 22 -1 q-10 8 -22 1 Z" fill="#fff"/><circle cx="1575" cy="1330" r="3.2" fill="#2a1a1a"/><circle cx="1603" cy="1330" r="3.2" fill="#2a1a1a"/>
</g>
<g>
<path d="M1674 1800 L1676 1904 L1688 1904 L1692 1800 Z" fill="#e89b72"/>
<path d="M1702 1800 L1728 1892 L1740 1890 L1722 1800 Z" fill="#e89b72"/>
<path d="M1676 1900 Q1660 1910 1647 1916 L1686 1919 L1688 1900 Z" fill="#1f2434"/>
<path d="M1726 1888 L1744 1886 L1746 1905 L1728 1927 Z" fill="#1f2434"/>
<path d="M1688 1620 Q1690 1588 1722 1585 Q1760 1586 1770 1625 Q1776 1670 1768 1700 Q1772 1718 1760 1726 L1745 1690 Q1735 1660 1728 1655 Z" fill="#2a1b1f"/>
<path d="M1690 1668 Q1714 1662 1738 1668 L1744 1700 L1752 1802 L1656 1802 L1680 1710 Z" fill="#e05b4c"/>
<path d="M1692 1672 Q1672 1640 1656 1606 L1668 1598 Q1686 1630 1704 1664 Z" fill="#e89b72"/>
<path d="M1740 1676 Q1772 1690 1776 1718 L1730 1762 L1720 1754 L1760 1718 Q1756 1700 1736 1690 Z" fill="#e89b72"/>
<ellipse cx="1657" cy="1601" rx="9" ry="9" fill="#e89b72"/>
<ellipse cx="1721" cy="1628" rx="24" ry="27" fill="#e89b72"/>
<path d="M1694 1622 Q1700 1592 1728 1594 Q1752 1598 1752 1625 L1740 1608 Q1722 1600 1706 1612 Q1700 1640 1690 1652 Z" fill="#2a1b1f"/>
<path d="M1712 1640 q10 8 20 0 q-10 10 -20 0 Z" fill="#fff"/><circle cx="1714" cy="1622" r="2.6" fill="#2a1b1f"/><circle cx="1732" cy="1622" r="2.6" fill="#2a1b1f"/>
</g>
</g>
</svg>
<svg width="2067" height="2923" viewBox="0 0 2067 2923">
<line x1="593" y1="2010.8" x2="1939" y2="2010.8" stroke="#e31d27" stroke-width="5.4" stroke-linecap="round" stroke-dasharray="0 10.42" fill="none"/>
<line x1="593" y1="2791" x2="1939" y2="2791" stroke="#e31d27" stroke-width="5.4" stroke-linecap="round" stroke-dasharray="0 10.42" fill="none"/>
<line x1="593" y1="2010.8" x2="593" y2="2791" stroke="#e31d27" stroke-width="5.4" stroke-linecap="round" stroke-dasharray="0 10.42" fill="none"/>
<line x1="1939" y1="2010.8" x2="1939" y2="2791" stroke="#e31d27" stroke-width="5.4" stroke-linecap="round" stroke-dasharray="0 10.42" fill="none"/>
<polygon points="607.6,2012 666.6,2012 655.6,2028 596.6,2028" fill="#1b1f5e"/>
<polygon points="695.3,2012 754.3,2012 743.3,2028 684.3,2028" fill="#3d2070"/>
<polygon points="783.0,2012 842.0,2012 831.0,2028 772.0,2028" fill="#e3135e"/>
<polygon points="870.7,2012 929.7,2012 918.7,2028 859.7,2028" fill="#f27a17"/>
<polygon points="958.4,2012 1017.4,2012 1006.4,2028 947.4,2028" fill="#d9d84a"/>
<polygon points="1046.1,2012 1105.1,2012 1094.1,2028 1035.1,2028" fill="#1cb1b4"/>
<polygon points="1133.8,2012 1192.8,2012 1181.8,2028 1122.8,2028" fill="#2fab7b"/>
<polygon points="1221.5,2012 1280.5,2012 1269.5,2028 1210.5,2028" fill="#173d4c"/>
<polygon points="1309.2,2012 1368.2,2012 1357.2,2028 1298.2,2028" fill="#1b1f5e"/>
<polygon points="1396.9,2012 1455.9,2012 1444.9,2028 1385.9,2028" fill="#3d2070"/>
<polygon points="1484.6,2012 1543.6,2012 1532.6,2028 1473.6,2028" fill="#e3135e"/>
<polygon points="1572.3,2012 1631.3,2012 1620.3,2028 1561.3,2028" fill="#f27a17"/>
<polygon points="1660.0,2012 1719.0,2012 1708.0,2028 1649.0,2028" fill="#d9d84a"/>
<polygon points="1747.7,2012 1806.7,2012 1795.7,2028 1736.7,2028" fill="#1cb1b4"/>
<polygon points="1835.4,2012 1894.4,2012 1883.4,2028 1824.4,2028" fill="#2fab7b"/>
<polygon points="1923.1,2012 1937.0,2012 1937.0,2028 1912.1,2028" fill="#173d4c"/>
<text x="961" y="2129.3" font-family="Liberation Sans,sans-serif" font-weight="bold" font-size="36.5" fill="#1a1a1a" textLength="612" lengthAdjust="spacingAndGlyphs">Stavovi o domaćim proizvodima</text>
<line x1="976.2" y1="2138.5" x2="976.2" y2="2301.7" stroke="#ececec" stroke-width="2"/>
<line x1="1030.0" y1="2138.5" x2="1030.0" y2="2301.7" stroke="#ececec" stroke-width="2"/>
<line x1="1083.8" y1="2138.5" x2="1083.8" y2="2301.7" stroke="#ececec" stroke-width="2"/>
<line x1="1137.7" y1="2138.5" x2="1137.7" y2="2301.7" stroke="#ececec" stroke-width="2"/>
<line x1="1191.5" y1="2138.5" x2="1191.5" y2="2301.7" stroke="#ececec" stroke-width="2"/>
<line x1="1245.3" y1="2138.5" x2="1245.3" y2="2301.7" stroke="#ececec" stroke-width="2"/>
<line x1="1299.1" y1="2138.5" x2="1299.1" y2="2301.7" stroke="#ececec" stroke-width="2"/>
<line x1="1352.9" y1="2138.5" x2="1352.9" y2="2301.7" stroke="#ececec" stroke-width="2"/>
<line x1="1406.8" y1="2138.5" x2="1406.8" y2="2301.7" stroke="#ececec" stroke-width="2"/>
<line x1="1460.6" y1="2138.5" x2="1460.6" y2="2301.7" stroke="#ececec" stroke-width="2"/>
<line x1="1514.4" y1="2138.5" x2="1514.4" y2="2301.7" stroke="#ececec" stroke-width="2"/>
<line x1="1568.2" y1="2138.5" x2="1568.2" y2="2301.7" stroke="#ececec" stroke-width="2"/>
<line x1="1622.0" y1="2138.5" x2="1622.0" y2="2301.7" stroke="#ececec" stroke-width="2"/>
<line x1="1675.8" y1="2138.5" x2="1675.8" y2="2301.7" stroke="#ececec" stroke-width="2"/>
<line x1="1729.7" y1="2138.5" x2="1729.7" y2="2301.7" stroke="#ececec" stroke-width="2"/>
<line x1="1783.5" y1="2138.5" x2="1783.5" y2="2301.7" stroke="#ececec" stroke-width="2"/>
<line x1="1837.3" y1="2138.5" x2="1837.3" y2="2301.7" stroke="#ececec" stroke-width="2"/>
<line x1="1891.1" y1="2138.5" x2="1891.1" y2="2301.7" stroke="#ececec" stroke-width="2"/>
<rect x="976.2" y="2207.8" width="958.8" height="44.6" fill="#e9e9e9"/>
<polyline points="1003.1,2228.7 1056.9,2217.9 1110.7,2221.0 1164.6,2221.0 1218.4,2233.3 1272.2,2222.5 1326.0,2230.2 1379.8,2222.5 1433.7,2228.7 1487.5,2224.1 1541.3,2231.8 1595.1,2228.7 1648.9,2227.2 1702.8,2228.7 1756.6,2228.7 1810.4,2228.7 1864.2,2228.7 1918.0,2228.7" fill="none" stroke="#a81a28" stroke-width="4" stroke-linejoin="round"/>
<circle cx="1003.1" cy="2228.7" r="5.6" fill="#fbeaea" stroke="#a0141f" stroke-width="3.6"/>
<text x="1003.1" y="2210.7" font-family="Liberation Sans,sans-serif" font-weight="bold" font-size="20.5" fill="#333" text-anchor="middle">45</text>
<circle cx="1056.9" cy="2217.9" r="5.6" fill="#fbeaea" stroke="#a0141f" stroke-width="3.6"/>
<text x="1056.9" y="2199.9" font-family="Liberation Sans,sans-serif" font-weight="bold" font-size="20.5" fill="#333" text-anchor="middle">52</text>
<circle cx="1110.7" cy="2221.0" r="5.6" fill="#fbeaea" stroke="#a0141f" stroke-width="3.6"/>
<text x="1110.7" y="2203.0" font-family="Liberation Sans,sans-serif" font-weight="bold" font-size="20.5" fill="#333" text-anchor="middle">50</text>
<circle cx="1164.6" cy="2221.0" r="5.6" fill="#fbeaea" stroke="#a0141f" stroke-width="3.6"/>
<text x="1164.6" y="2203.0" font-family="Liberation Sans,sans-serif" font-weight="bold" font-size="20.5" fill="#333" text-anchor="middle">50</text>
<circle cx="1218.4" cy="2233.3" r="5.6" fill="#fbeaea" stroke="#a0141f" stroke-width="3.6"/>
<text x="1218.4" y="2215.3" font-family="Liberation Sans,sans-serif" font-weight="bold" font-size="20.5" fill="#333" text-anchor="middle">42</text>
<circle cx="1272.2" cy="2222.5" r="5.6" fill="#fbeaea" stroke="#a0141f" stroke-width="3.6"/>
<text x="1272.2" y="2204.5" font-family="Liberation Sans,sans-serif" font-weight="bold" font-size="20.5" fill="#333" text-anchor="middle">49</text>
<circle cx="1326.0" cy="2230.2" r="5.6" fill="#fbeaea" stroke="#a0141f" stroke-width="3.6"/>
<text x="1326.0" y="2212.2" font-family="Liberation Sans,sans-serif" font-weight="bold" font-size="20.5" fill="#333" text-anchor="middle">44</text>
<circle cx="1379.8" cy="2222.5" r="5.6" fill="#fbeaea" stroke="#a0141f" stroke-width="3.6"/>
<text x="1379.8" y="2204.5" font-family="Liberation Sans,sans-serif" font-weight="bold" font-size="20.5" fill="#333" text-anchor="middle">49</text>
<circle cx="1433.7" cy="2228.7" r="5.6" fill="#fbeaea" stroke="#a0141f" stroke-width="3.6"/>
<text x="1433.7" y="2210.7" font-family="Liberation Sans,sans-serif" font-weight="bold" font-size="20.5" fill="#333" text-anchor="middle">45</text>
<circle cx="1487.5" cy="2224.1" r="5.6" fill="#fbeaea" stroke="#a0141f" stroke-width="3.6"/>
<text x="1487.5" y="2206.1" font-family="Liberation Sans,sans-serif" font-weight="bold" font-size="20.5" fill="#333" text-anchor="middle">48</text>
<circle cx="1541.3" cy="2231.8" r="5.6" fill="#fbeaea" stroke="#a0141f" stroke-width="3.6"/>
<text x="1541.3" y="2213.8" font-family="Liberation Sans,sans-serif" font-weight="bold" font-size="20.5" fill="#333" text-anchor="middle">43</text>
<circle cx="1595.1" cy="2228.7" r="5.6" fill="#fbeaea" stroke="#a0141f" stroke-width="3.6"/>
<text x="1595.1" y="2210.7" font-family="Liberation Sans,sans-serif" font-weight="bold" font-size="20.5" fill="#333" text-anchor="middle">45</text>
<circle cx="1648.9" cy="2227.2" r="5.6" fill="#fbeaea" stroke="#a0141f" stroke-width="3.6"/>
<text x="1648.9" y="2209.2" font-family="Liberation Sans,sans-serif" font-weight="bold" font-size="20.5" fill="#333" text-anchor="middle">46</text>
<circle cx="1702.8" cy="2228.7" r="5.6" fill="#fbeaea" stroke="#a0141f" stroke-width="3.6"/>
<text x="1702.8" y="2210.7" font-family="Liberation Sans,sans-serif" font-weight="bold" font-size="20.5" fill="#333" text-anchor="middle">45</text>
<circle cx="1756.6" cy="2228.7" r="5.6" fill="#fbeaea" stroke="#a0141f" stroke-width="3.6"/>
<text x="1756.6" y="2210.7" font-family="Liberation Sans,sans-serif" font-weight="bold" font-size="20.5" fill="#333" text-anchor="middle">45</text>
<circle cx="1810.4" cy="2228.7" r="5.6" fill="#fbeaea" stroke="#a0141f" stroke-width="3.6"/>
<text x="1810.4" y="2210.7" font-family="Liberation Sans,sans-serif" font-weight="bold" font-size="20.5" fill="#333" text-anchor="middle">45</text>
<circle cx="1864.2" cy="2228.7" r="5.6" fill="#fbeaea" stroke="#a0141f" stroke-width="3.6"/>
<text x="1864.2" y="2210.7" font-family="Liberation Sans,sans-serif" font-weight="bold" font-size="20.5" fill="#333" text-anchor="middle">45</text>
<circle cx="1918.0" cy="2228.7" r="5.6" fill="#fbeaea" stroke="#a0141f" stroke-width="3.6"/>
<text x="1918.0" y="2210.7" font-family="Liberation Sans,sans-serif" font-weight="bold" font-size="20.5" fill="#333" text-anchor="middle">45</text>
<text x="675.4" y="2209" font-family="Liberation Sans,sans-serif" font-weight="bold" font-size="19" fill="#222" textLength="297.1" lengthAdjust="spacingAndGlyphs">Radije biram proizvode domaćeg</text>
<text x="718.5" y="2237" font-family="Liberation Sans,sans-serif" font-weight="bold" font-size="19" fill="#222" textLength="254.0" lengthAdjust="spacingAndGlyphs">porekla nego strane/uvozne</text>
<text x="870.7" y="2264.5" font-family="Liberation Sans,sans-serif" font-weight="bold" font-size="19" fill="#222" textLength="101.8" lengthAdjust="spacingAndGlyphs">proizvode..</text>
<line x1="976.2" y1="2321.5" x2="976.2" y2="2489.3" stroke="#ececec" stroke-width="2"/>
<line x1="1030.0" y1="2321.5" x2="1030.0" y2="2489.3" stroke="#ececec" stroke-width="2"/>
<line x1="1083.8" y1="2321.5" x2="1083.8" y2="2489.3" stroke="#ececec" stroke-width="2"/>
<line x1="1137.7" y1="2321.5" x2="1137.7" y2="2489.3" stroke="#ececec" stroke-width="2"/>
<line x1="1191.5" y1="2321.5" x2="1191.5" y2="2489.3" stroke="#ececec" stroke-width="2"/>
<line x1="1245.3" y1="2321.5" x2="1245.3" y2="2489.3" stroke="#ececec" stroke-width="2"/>
<line x1="1299.1" y1="2321.5" x2="1299.1" y2="2489.3" stroke="#ececec" stroke-width="2"/>
<line x1="1352.9" y1="2321.5" x2="1352.9" y2="2489.3" stroke="#ececec" stroke-width="2"/>
<line x1="1406.8" y1="2321.5" x2="1406.8" y2="2489.3" stroke="#ececec" stroke-width="2"/>
<line x1="1460.6" y1="2321.5" x2="1460.6" y2="2489.3" stroke="#ececec" stroke-width="2"/>
<line x1="1514.4" y1="2321.5" x2="1514.4" y2="2489.3" stroke="#ececec" stroke-width="2"/>
<line x1="1568.2" y1="2321.5" x2="1568.2" y2="2489.3" stroke="#ececec" stroke-width="2"/>
<line x1="1622.0" y1="2321.5" x2="1622.0" y2="2489.3" stroke="#ececec" stroke-width="2"/>
<line x1="1675.8" y1="2321.5" x2="1675.8" y2="2489.3" stroke="#ececec" stroke-width="2"/>
<line x1="1729.7" y1="2321.5" x2="1729.7" y2="2489.3" stroke="#ececec" stroke-width="2"/>
<line x1="1783.5" y1="2321.5" x2="1783.5" y2="2489.3" stroke="#ececec" stroke-width="2"/>
<line x1="1837.3" y1="2321.5" x2="1837.3" y2="2489.3" stroke="#ececec" stroke-width="2"/>
<line x1="1891.1" y1="2321.5" x2="1891.1" y2="2489.3" stroke="#ececec" stroke-width="2"/>
<rect x="976.2" y="2390.8" width="958.8" height="47.7" fill="#e9e9e9"/>
<polyline points="1003.1,2423.2 1056.9,2415.4 1110.7,2420.1 1164.6,2418.5 1218.4,2429.4 1272.2,2421.6 1326.0,2426.3 1379.8,2420.1 1433.7,2423.2 1487.5,2417.0 1541.3,2426.3 1595.1,2424.8 1648.9,2421.6 1702.8,2421.6 1756.6,2423.2 1810.4,2423.2 1864.2,2426.3 1918.0,2423.2" fill="none" stroke="#a81a28" stroke-width="4" stroke-linejoin="round"/>
<circle cx="1003.1" cy="2423.2" r="5.6" fill="#fbeaea" stroke="#a0141f" stroke-width="3.6"/>
<text x="1003.1" y="2405.2" font-family="Liberation Sans,sans-serif" font-weight="bold" font-size="20.5" fill="#333" text-anchor="middle">40</text>
<circle cx="1056.9" cy="2415.4" r="5.6" fill="#fbeaea" stroke="#a0141f" stroke-width="3.6"/>
<text x="1056.9" y="2397.4" font-family="Liberation Sans,sans-serif" font-weight="bold" font-size="20.5" fill="#333" text-anchor="middle">45</text>
<circle cx="1110.7" cy="2420.1" r="5.6" fill="#fbeaea" stroke="#a0141f" stroke-width="3.6"/>
<text x="1110.7" y="2402.1" font-family="Liberation Sans,sans-serif" font-weight="bold" font-size="20.5" fill="#333" text-anchor="middle">42</text>
<circle cx="1164.6" cy="2418.5" r="5.6" fill="#fbeaea" stroke="#a0141f" stroke-width="3.6"/>
<text x="1164.6" y="2400.5" font-family="Liberation Sans,sans-serif" font-weight="bold" font-size="20.5" fill="#333" text-anchor="middle">43</text>
<circle cx="1218.4" cy="2429.4" r="5.6" fill="#fbeaea" stroke="#a0141f" stroke-width="3.6"/>
<text x="1218.4" y="2411.4" font-family="Liberation Sans,sans-serif" font-weight="bold" font-size="20.5" fill="#333" text-anchor="middle">36</text>
<circle cx="1272.2" cy="2421.6" r="5.6" fill="#fbeaea" stroke="#a0141f" stroke-width="3.6"/>
<text x="1272.2" y="2403.6" font-family="Liberation Sans,sans-serif" font-weight="bold" font-size="20.5" fill="#333" text-anchor="middle">41</text>
<circle cx="1326.0" cy="2426.3" r="5.6" fill="#fbeaea" stroke="#a0141f" stroke-width="3.6"/>
<text x="1326.0" y="2408.3" font-family="Liberation Sans,sans-serif" font-weight="bold" font-size="20.5" fill="#333" text-anchor="middle">38</text>
<circle cx="1379.8" cy="2420.1" r="5.6" fill="#fbeaea" stroke="#a0141f" stroke-width="3.6"/>
<text x="1379.8" y="2402.1" font-family="Liberation Sans,sans-serif" font-weight="bold" font-size="20.5" fill="#333" text-anchor="middle">42</text>
<circle cx="1433.7" cy="2423.2" r="5.6" fill="#fbeaea" stroke="#a0141f" stroke-width="3.6"/>
<text x="1433.7" y="2405.2" font-family="Liberation Sans,sans-serif" font-weight="bold" font-size="20.5" fill="#333" text-anchor="middle">40</text>
<circle cx="1487.5" cy="2417.0" r="5.6" fill="#fbeaea" stroke="#a0141f" stroke-width="3.6"/>
<text x="1487.5" y="2399.0" font-family="Liberation Sans,sans-serif" font-weight="bold" font-size="20.5" fill="#333" text-anchor="middle">44</text>
<circle cx="1541.3" cy="2426.3" r="5.6" fill="#fbeaea" stroke="#a0141f" stroke-width="3.6"/>
<text x="1541.3" y="2408.3" font-family="Liberation Sans,sans-serif" font-weight="bold" font-size="20.5" fill="#333" text-anchor="middle">38</text>
<circle cx="1595.1" cy="2424.8" r="5.6" fill="#fbeaea" stroke="#a0141f" stroke-width="3.6"/>
<text x="1595.1" y="2406.8" font-family="Liberation Sans,sans-serif" font-weight="bold" font-size="20.5" fill="#333" text-anchor="middle">39</text>
<circle cx="1648.9" cy="2421.6" r="5.6" fill="#fbeaea" stroke="#a0141f" stroke-width="3.6"/>
<text x="1648.9" y="2403.6" font-family="Liberation Sans,sans-serif" font-weight="bold" font-size="20.5" fill="#333" text-anchor="middle">41</text>
<circle cx="1702.8" cy="2421.6" r="5.6" fill="#fbeaea" stroke="#a0141f" stroke-width="3.6"/>
<text x="1702.8" y="2403.6" font-family="Liberation Sans,sans-serif" font-weight="bold" font-size="20.5" fill="#333" text-anchor="middle">41</text>
<circle cx="1756.6" cy="2423.2" r="5.6" fill="#fbeaea" stroke="#a0141f" stroke-width="3.6"/>
<text x="1756.6" y="2405.2" font-family="Liberation Sans,sans-serif" font-weight="bold" font-size="20.5" fill="#333" text-anchor="middle">40</text>
<circle cx="1810.4" cy="2423.2" r="5.6" fill="#fbeaea" stroke="#a0141f" stroke-width="3.6"/>
<text x="1810.4" y="2405.2" font-family="Liberation Sans,sans-serif" font-weight="bold" font-size="20.5" fill="#333" text-anchor="middle">40</text>
<circle cx="1864.2" cy="2426.3" r="5.6" fill="#fbeaea" stroke="#a0141f" stroke-width="3.6"/>
<text x="1864.2" y="2408.3" font-family="Liberation Sans,sans-serif" font-weight="bold" font-size="20.5" fill="#333" text-anchor="middle">38</text>
<circle cx="1918.0" cy="2423.2" r="5.6" fill="#fbeaea" stroke="#a0141f" stroke-width="3.6"/>
<text x="1918.0" y="2405.2" font-family="Liberation Sans,sans-serif" font-weight="bold" font-size="20.5" fill="#333" text-anchor="middle">40</text>
<text x="636.6" y="2400" font-family="Liberation Sans,sans-serif" font-weight="bold" font-size="19" fill="#222" textLength="335.9" lengthAdjust="spacingAndGlyphs">Imam više povjerenja u domaće nego</text>
<text x="720.9" y="2428.7" font-family="Liberation Sans,sans-serif" font-weight="bold" font-size="19" fill="#222" textLength="251.6" lengthAdjust="spacingAndGlyphs">u strane/uvozne proizvode..</text>
<line x1="976.2" y1="2511" x2="976.2" y2="2634" stroke="#ececec" stroke-width="2"/>
<line x1="1030.0" y1="2511" x2="1030.0" y2="2634" stroke="#ececec" stroke-width="2"/>
<line x1="1083.8" y1="2511" x2="1083.8" y2="2634" stroke="#ececec" stroke-width="2"/>
<line x1="1137.7" y1="2511" x2="1137.7" y2="2634" stroke="#ececec" stroke-width="2"/>
<line x1="1191.5" y1="2511" x2="1191.5" y2="2634" stroke="#ececec" stroke-width="2"/>
<line x1="1245.3" y1="2511" x2="1245.3" y2="2634" stroke="#ececec" stroke-width="2"/>
<line x1="1299.1" y1="2511" x2="1299.1" y2="2634" stroke="#ececec" stroke-width="2"/>
<line x1="1352.9" y1="2511" x2="1352.9" y2="2634" stroke="#ececec" stroke-width="2"/>
<line x1="1406.8" y1="2511" x2="1406.8" y2="2634" stroke="#ececec" stroke-width="2"/>
<line x1="1460.6" y1="2511" x2="1460.6" y2="2634" stroke="#ececec" stroke-width="2"/>
<line x1="1514.4" y1="2511" x2="1514.4" y2="2634" stroke="#ececec" stroke-width="2"/>
<line x1="1568.2" y1="2511" x2="1568.2" y2="2634" stroke="#ececec" stroke-width="2"/>
<line x1="1622.0" y1="2511" x2="1622.0" y2="2634" stroke="#ececec" stroke-width="2"/>
<line x1="1675.8" y1="2511" x2="1675.8" y2="2634" stroke="#ececec" stroke-width="2"/>
<line x1="1729.7" y1="2511" x2="1729.7" y2="2634" stroke="#ececec" stroke-width="2"/>
<line x1="1783.5" y1="2511" x2="1783.5" y2="2634" stroke="#ececec" stroke-width="2"/>
<line x1="1837.3" y1="2511" x2="1837.3" y2="2634" stroke="#ececec" stroke-width="2"/>
<line x1="1891.1" y1="2511" x2="1891.1" y2="2634" stroke="#ececec" stroke-width="2"/>
<rect x="976.2" y="2564" width="958.8" height="34.0" fill="#e9e9e9"/>
<polyline points="1003.1,2579.6 1056.9,2571.5 1110.7,2577.3 1164.6,2573.8 1218.4,2581.9 1272.2,2573.8 1326.0,2581.9 1379.8,2579.6 1433.7,2579.6 1487.5,2572.7 1541.3,2579.6 1595.1,2577.3 1648.9,2577.3 1702.8,2576.2 1756.6,2578.4 1810.4,2578.4 1864.2,2577.3 1918.0,2576.2" fill="none" stroke="#a81a28" stroke-width="4" stroke-linejoin="round"/>
<circle cx="1003.1" cy="2579.6" r="5.6" fill="#fbeaea" stroke="#a0141f" stroke-width="3.6"/>
<text x="1003.1" y="2561.6" font-family="Liberation Sans,sans-serif" font-weight="bold" font-size="20.5" fill="#333" text-anchor="middle">47</text>
<circle cx="1056.9" cy="2571.5" r="5.6" fill="#fbeaea" stroke="#a0141f" stroke-width="3.6"/>
<text x="1056.9" y="2553.5" font-family="Liberation Sans,sans-serif" font-weight="bold" font-size="20.5" fill="#333" text-anchor="middle">54</text>
<circle cx="1110.7" cy="2577.3" r="5.6" fill="#fbeaea" stroke="#a0141f" stroke-width="3.6"/>
<text x="1110.7" y="2559.3" font-family="Liberation Sans,sans-serif" font-weight="bold" font-size="20.5" fill="#333" text-anchor="middle">49</text>
<circle cx="1164.6" cy="2573.8" r="5.6" fill="#fbeaea" stroke="#a0141f" stroke-width="3.6"/>
<text x="1164.6" y="2555.8" font-family="Liberation Sans,sans-serif" font-weight="bold" font-size="20.5" fill="#333" text-anchor="middle">52</text>
<circle cx="1218.4" cy="2581.9" r="5.6" fill="#fbeaea" stroke="#a0141f" stroke-width="3.6"/>
<text x="1218.4" y="2563.9" font-family="Liberation Sans,sans-serif" font-weight="bold" font-size="20.5" fill="#333" text-anchor="middle">45</text>
<circle cx="1272.2" cy="2573.8" r="5.6" fill="#fbeaea" stroke="#a0141f" stroke-width="3.6"/>
<text x="1272.2" y="2555.8" font-family="Liberation Sans,sans-serif" font-weight="bold" font-size="20.5" fill="#333" text-anchor="middle">52</text>
<circle cx="1326.0" cy="2581.9" r="5.6" fill="#fbeaea" stroke="#a0141f" stroke-width="3.6"/>
<text x="1326.0" y="2563.9" font-family="Liberation Sans,sans-serif" font-weight="bold" font-size="20.5" fill="#333" text-anchor="middle">45</text>
<circle cx="1379.8" cy="2579.6" r="5.6" fill="#fbeaea" stroke="#a0141f" stroke-width="3.6"/>
<text x="1379.8" y="2561.6" font-family="Liberation Sans,sans-serif" font-weight="bold" font-size="20.5" fill="#333" text-anchor="middle">47</text>
<circle cx="1433.7" cy="2579.6" r="5.6" fill="#fbeaea" stroke="#a0141f" stroke-width="3.6"/>
<text x="1433.7" y="2561.6" font-family="Liberation Sans,sans-serif" font-weight="bold" font-size="20.5" fill="#333" text-anchor="middle">47</text>
<circle cx="1487.5" cy="2572.7" r="5.6" fill="#fbeaea" stroke="#a0141f" stroke-width="3.6"/>
<text x="1487.5" y="2554.7" font-family="Liberation Sans,sans-serif" font-weight="bold" font-size="20.5" fill="#333" text-anchor="middle">53</text>
<circle cx="1541.3" cy="2579.6" r="5.6" fill="#fbeaea" stroke="#a0141f" stroke-width="3.6"/>
<text x="1541.3" y="2561.6" font-family="Liberation Sans,sans-serif" font-weight="bold" font-size="20.5" fill="#333" text-anchor="middle">47</text>
<circle cx="1595.1" cy="2577.3" r="5.6" fill="#fbeaea" stroke="#a0141f" stroke-width="3.6"/>
<text x="1595.1" y="2559.3" font-family="Liberation Sans,sans-serif" font-weight="bold" font-size="20.5" fill="#333" text-anchor="middle">49</text>
<circle cx="1648.9" cy="2577.3" r="5.6" fill="#fbeaea" stroke="#a0141f" stroke-width="3.6"/>
<text x="1648.9" y="2559.3" font-family="Liberation Sans,sans-serif" font-weight="bold" font-size="20.5" fill="#333" text-anchor="middle">49</text>
<circle cx="1702.8" cy="2576.2" r="5.6" fill="#fbeaea" stroke="#a0141f" stroke-width="3.6"/>
<text x="1702.8" y="2558.2" font-family="Liberation Sans,sans-serif" font-weight="bold" font-size="20.5" fill="#333" text-anchor="middle">50</text>
<circle cx="1756.6" cy="2578.4" r="5.6" fill="#fbeaea" stroke="#a0141f" stroke-width="3.6"/>
<text x="1756.6" y="2560.4" font-family="Liberation Sans,sans-serif" font-weight="bold" font-size="20.5" fill="#333" text-anchor="middle">48</text>
<circle cx="1810.4" cy="2578.4" r="5.6" fill="#fbeaea" stroke="#a0141f" stroke-width="3.6"/>
<text x="1810.4" y="2560.4" font-family="Liberation Sans,sans-serif" font-weight="bold" font-size="20.5" fill="#333" text-anchor="middle">48</text>
<circle cx="1864.2" cy="2577.3" r="5.6" fill="#fbeaea" stroke="#a0141f" stroke-width="3.6"/>
<text x="1864.2" y="2559.3" font-family="Liberation Sans,sans-serif" font-weight="bold" font-size="20.5" fill="#333" text-anchor="middle">49</text>
<circle cx="1918.0" cy="2576.2" r="5.6" fill="#fbeaea" stroke="#a0141f" stroke-width="3.6"/>
<text x="1918.0" y="2558.2" font-family="Liberation Sans,sans-serif" font-weight="bold" font-size="20.5" fill="#333" text-anchor="middle">50</text>
<text x="666.6" y="2577.3" font-family="Liberation Sans,sans-serif" font-weight="bold" font-size="19" fill="#222" textLength="305.9" lengthAdjust="spacingAndGlyphs">Trudim se da kupovinom domaćih</text>
<text x="636.6" y="2605" font-family="Liberation Sans,sans-serif" font-weight="bold" font-size="19" fill="#222" textLength="335.9" lengthAdjust="spacingAndGlyphs">proizvoda pomažem srpskoj privredi.</text>
<line x1="976.2" y1="2634.5" x2="1935.0" y2="2634.5" stroke="#777" stroke-width="1.5"/>
<text transform="translate(1007.1 2644) rotate(-90)" font-family="Liberation Sans,sans-serif" font-size="12" fill="#777" text-anchor="end">Okt. 2015</text>
<text transform="translate(1060.9 2644) rotate(-90)" font-family="Liberation Sans,sans-serif" font-size="12" fill="#777" text-anchor="end">Maj-16</text>
<text transform="translate(1114.7 2644) rotate(-90)" font-family="Liberation Sans,sans-serif" font-size="12" fill="#777" text-anchor="end">Dec-16</text>
<text transform="translate(1168.6 2644) rotate(-90)" font-family="Liberation Sans,sans-serif" font-size="12" fill="#777" text-anchor="end">Maj-17</text>
<text transform="translate(1222.4 2644) rotate(-90)" font-family="Liberation Sans,sans-serif" font-size="12" fill="#777" text-anchor="end">Nov-17</text>
<text transform="translate(1276.2 2644) rotate(-90)" font-family="Liberation Sans,sans-serif" font-size="12" fill="#777" text-anchor="end">Maj-18</text>
<text transform="translate(1330.0 2644) rotate(-90)" font-family="Liberation Sans,sans-serif" font-size="12" fill="#777" text-anchor="end">Nov-18</text>
<text transform="translate(1383.8 2644) rotate(-90)" font-family="Liberation Sans,sans-serif" font-size="12" fill="#777" text-anchor="end">Maj-19</text>
<text transform="translate(1437.7 2644) rotate(-90)" font-family="Liberation Sans,sans-serif" font-size="12" fill="#777" text-anchor="end">Nov-19</text>
<text transform="translate(1491.5 2644) rotate(-90)" font-family="Liberation Sans,sans-serif" font-size="12" fill="#777" text-anchor="end">Jun-20</text>
<text transform="translate(1545.3 2644) rotate(-90)" font-family="Liberation Sans,sans-serif" font-size="12" fill="#777" text-anchor="end">Nov-20</text>
<text transform="translate(1599.1 2644) rotate(-90)" font-family="Liberation Sans,sans-serif" font-size="12" fill="#777" text-anchor="end">Jun-21</text>
<text transform="translate(1652.9 2644) rotate(-90)" font-family="Liberation Sans,sans-serif" font-size="12" fill="#777" text-anchor="end">Nov-21</text>
<text transform="translate(1706.8 2644) rotate(-90)" font-family="Liberation Sans,sans-serif" font-size="12" fill="#777" text-anchor="end">Jun-22</text>
<text transform="translate(1760.6 2644) rotate(-90)" font-family="Liberation Sans,sans-serif" font-size="12" fill="#777" text-anchor="end">Nov-22</text>
<text transform="translate(1814.4 2644) rotate(-90)" font-family="Liberation Sans,sans-serif" font-size="12" fill="#777" text-anchor="end">Jun-23</text>
<text transform="translate(1868.2 2644) rotate(-90)" font-family="Liberation Sans,sans-serif" font-size="12" fill="#777" text-anchor="end">Nov-23</text>
<text transform="translate(1922.0 2644) rotate(-90)" font-family="Liberation Sans,sans-serif" font-size="12" fill="#777" text-anchor="end">Jul-24</text>
<text x="655" y="2740" font-family="Liberation Sans,sans-serif" font-size="9" fill="#777">Source: IPSOS BrandPuls 2024</text>
<text x="644" y="2760" font-family="Liberation Sans,sans-serif" font-size="9" fill="#777">© Ipsos |</text>
<text x="1290" y="2760" font-family="Liberation Sans,sans-serif" font-size="9" fill="#777">7</text>
<defs><linearGradient id="ipg18802718" x1="0" y1="0" x2="1" y2="0.3"><stop offset="0" stop-color="#2b3f98"/><stop offset="0.55" stop-color="#2667a8"/><stop offset="1" stop-color="#17a3a6"/></linearGradient></defs><rect x="1880" y="2718" width="53" height="51" fill="url(#ipg18802718)"/><rect x="1903.5" y="2726" width="6" height="16" rx="3" fill="#3a6ab0" opacity="0.8"/><text x="1906.5" y="2760" font-family="Liberation Sans,sans-serif" font-weight="bold" font-size="13" fill="#e8f0ff" text-anchor="middle">Ipsos</text>
<rect x="590" y="2752" width="40" height="40" fill="#e31d27"/><text x="610" y="2782" font-family="Liberation Sans,sans-serif" font-weight="bold" font-size="27" fill="#fff" text-anchor="middle">7</text>
</svg>
<svg width="2067" height="2923" viewBox="0 0 2067 2923">
<text x="128.3" y="2882.8" font-family="Liberation Sans,sans-serif" font-weight="bold" font-size="30" fill="#000" textLength="33.8" lengthAdjust="spacingAndGlyphs" stroke="#000" stroke-width="1.2">46</text>
<circle cx="289" cy="2871.6" r="9.8" fill="#000"/><text x="289" y="2877.6" font-family="Liberation Sans,sans-serif" font-weight="bold" font-size="15" fill="#fff" text-anchor="middle" textLength="13" lengthAdjust="spacingAndGlyphs">IN</text>
<text x="308.4" y="2881.4" font-family="Liberation Sans,sans-serif" font-weight="bold" font-size="27" fill="#000" textLength="68.8" lengthAdjust="spacingAndGlyphs" stroke="#000" stroke-width="0.8">STORE</text>
<line x1="390" y1="2863" x2="390" y2="2881" stroke="#e31d27" stroke-width="1.6" stroke-dasharray="1.6 2"/>
<text x="401.5" y="2879.3" font-family="Liberation Sans,sans-serif" font-weight="bold" font-size="24" fill="#000" textLength="144.5" lengthAdjust="spacingAndGlyphs">oktobar 2024</text>
<line x1="553.3" y1="2862" x2="553.3" y2="2880" stroke="#e31d27" stroke-width="1.6" stroke-dasharray="1.6 2"/>
<text x="565.9" y="2879.3" font-family="Liberation Sans,sans-serif" font-size="24" fill="#000" textLength="154.5" lengthAdjust="spacingAndGlyphs">www.instore.rs</text>
</svg>
</body>
</html>
